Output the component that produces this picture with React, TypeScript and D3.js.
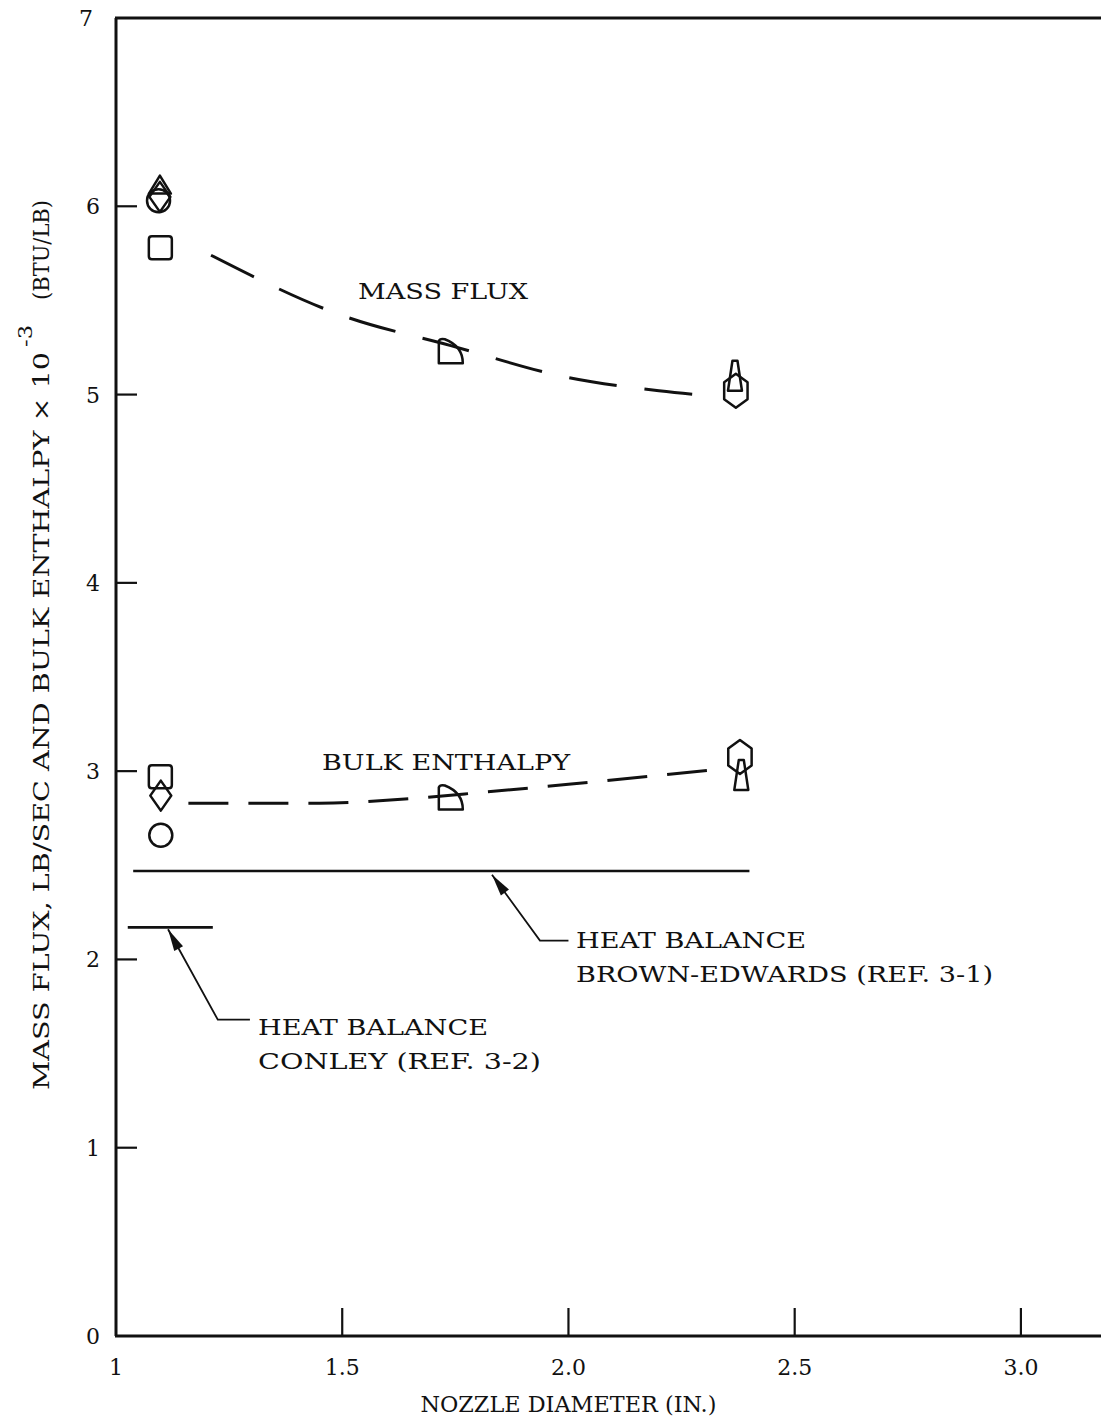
import React from "react";
import * as d3 from "d3";

const W = 1101;
const H = 1424;

// Axis ticks
const yTicks = [0, 1, 2, 3, 4, 5, 6, 7];
const xTickValues = [1, 1.5, 2.0, 2.5, 3.0];
const xTickLabels = ["1", "1.5", "2.0", "2.5", "3.0"];

// Mass flux measured points
const massFluxX = [1.097, 1.094, 1.097, 1.098, 1.74, 2.37, 2.368];
const massFluxY = [6.11, 6.03, 6.05, 5.78, 5.23, 5.02, 5.1];
const massFluxMarker = ["triangle", "circle", "diamond", "square", "quadrant", "hexagon", "spike"];

// Bulk enthalpy measured points
const bulkX = [1.098, 1.099, 1.099, 1.74, 2.379, 2.382];
const bulkY = [2.97, 2.87, 2.66, 2.86, 3.075, 2.98];
const bulkMarker = ["square", "diamond", "circle", "quadrant", "hexagon", "spike"];

// Faired dashed curves
const massFluxCurveX = [1.21, 1.5, 1.74, 2.0, 2.2, 2.33];
const massFluxCurveY = [5.74, 5.42, 5.26, 5.09, 5.02, 4.99];
const bulkCurveX = [1.16, 1.45, 1.656, 1.82, 2.0, 2.33];
const bulkCurveY = [2.83, 2.83, 2.855, 2.89, 2.93, 3.01];

// Heat balance reference lines
const heatBalanceNames = ["BROWN-EDWARDS (REF. 3-1)", "CONLEY (REF. 3-2)"];
const heatBalanceY = [2.47, 2.17];
const heatBalanceX0 = [1.038, 1.026];
const heatBalanceX1 = [2.40, 1.214];

const FONT = "'DejaVu Serif', 'Liberation Serif', serif";

function markerPath(m: string, cx: number, cy: number): string {
  const p = d3.path();
  switch (m) {
    case "circle":
      p.moveTo(cx + 11.5, cy);
      p.arc(cx, cy, 11.5, 0, Math.PI * 2);
      p.closePath();
      break;
    case "square": {
      const s = 11.5, r = 3;
      p.moveTo(cx - s + r, cy - s);
      p.lineTo(cx + s - r, cy - s);
      p.quadraticCurveTo(cx + s, cy - s, cx + s, cy - s + r);
      p.lineTo(cx + s, cy + s - r);
      p.quadraticCurveTo(cx + s, cy + s, cx + s - r, cy + s);
      p.lineTo(cx - s + r, cy + s);
      p.quadraticCurveTo(cx - s, cy + s, cx - s, cy + s - r);
      p.lineTo(cx - s, cy - s + r);
      p.quadraticCurveTo(cx - s, cy - s, cx - s + r, cy - s);
      p.closePath();
      break;
    }
    case "triangle":
      p.moveTo(cx, cy - 10);
      p.lineTo(cx + 11, cy + 8);
      p.lineTo(cx - 11, cy + 8);
      p.closePath();
      break;
    case "diamond":
      p.moveTo(cx, cy - 15);
      p.lineTo(cx + 10.5, cy);
      p.lineTo(cx, cy + 15);
      p.lineTo(cx - 10.5, cy);
      p.closePath();
      break;
    case "quadrant":
      p.moveTo(cx - 12, cy + 12);
      p.lineTo(cx - 12, cy - 10);
      p.quadraticCurveTo(cx - 11, cy - 13, cx - 6, cy - 12);
      p.quadraticCurveTo(cx + 12, cy - 5, cx + 12, cy + 12);
      p.closePath();
      break;
    case "hexagon": {
      const rx = 13.5, ry = 17;
      for (let i = 0; i < 6; i++) {
        const a = -Math.PI / 2 + (i * Math.PI) / 3;
        const px = cx + rx * Math.cos(a);
        const py = cy + ry * Math.sin(a);
        if (i === 0) p.moveTo(px, py);
        else p.lineTo(px, py);
      }
      p.closePath();
      break;
    }
    case "spike":
      p.moveTo(cx - 2.5, cy - 15);
      p.lineTo(cx + 2.5, cy - 15);
      p.lineTo(cx + 7, cy + 15);
      p.lineTo(cx - 7, cy + 15);
      p.closePath();
      break;
  }
  return p.toString();
}

function arrowHead(tipX: number, tipY: number, fromX: number, fromY: number): string {
  const ang = Math.atan2(tipY - fromY, tipX - fromX);
  const len = 22, hw = 5;
  const bx = tipX - len * Math.cos(ang);
  const by = tipY - len * Math.sin(ang);
  const nx = -Math.sin(ang), ny = Math.cos(ang);
  return `M${tipX},${tipY}L${bx + nx * hw},${by + ny * hw}L${bx - nx * hw},${by - ny * hw}Z`;
}

export default function App() {
  const x = d3.scaleLinear().domain([1, 3.177]).range([116, 1101]);
  const y = d3.scaleLinear().domain([0, 7]).range([1336, 18]);

  const line = d3
    .line<[number, number]>()
    .x((d) => x(d[0]))
    .y((d) => y(d[1]))
    .curve(d3.curveMonotoneX);

  const massCurve = line(massFluxCurveX.map((v, i) => [v, massFluxCurveY[i]] as [number, number])) || "";
  const bulkCurve = line(bulkCurveX.map((v, i) => [v, bulkCurveY[i]] as [number, number])) || "";

  // annotation pointers (data coordinates)
  const brownTip = [1.831, 2.45];
  const brownBend = [1.937, 2.10];
  const brownEnd = [2.0, 2.10];
  const conleyTip = [1.115, 2.16];
  const conleyBend = [1.225, 1.68];
  const conleyEnd = [1.296, 1.68];

  const textStyle = { fontFamily: FONT, fontSize: 23, fill: "#111" } as const;

  return (
    <svg
      width={W}
      height={H}
      viewBox={`0 0 ${W} ${H}`}
      style={{ position: "absolute", left: 0, top: 0, background: "#fff" }}
    >
      <rect x={0} y={0} width={W} height={H} fill="#fff" />
      {/* frame */}
      <g stroke="#111" strokeWidth={3} fill="none">
        <line x1={x(1)} y1={y(0)} x2={x(1)} y2={y(7)} />
        <line x1={x(1) - 1} y1={y(7)} x2={W} y2={y(7)} />
        <line x1={x(1) - 1} y1={y(0)} x2={W} y2={y(0)} />
      </g>
      {/* y ticks */}
      <g stroke="#111" strokeWidth={2.2}>
        {yTicks.filter((t) => t > 0 && t < 7).map((t) => (
          <line key={t} x1={x(1)} x2={x(1) + 21} y1={y(t)} y2={y(t)} />
        ))}
      </g>
      {yTicks.map((t) => (
        <text
          key={t}
          x={t === 7 ? 93 : 100}
          y={y(t) + 8}
          textAnchor="end"
          style={{ ...textStyle, fontSize: 22 }}
        >
          {t}
        </text>
      ))}
      {/* x ticks */}
      <g stroke="#111" strokeWidth={2.2}>
        {xTickValues.filter((t) => t > 1).map((t) => (
          <line key={t} x1={x(t)} x2={x(t)} y1={y(0)} y2={y(0) - 28} />
        ))}
      </g>
      {xTickValues.map((t, i) => (
        <text key={t} x={x(t)} y={1375} textAnchor="middle" style={{ ...textStyle, fontSize: 22 }}>
          {xTickLabels[i]}
        </text>
      ))}
      {/* axis titles */}
      <text x={x(2.0)} y={1412} textAnchor="middle" style={textStyle} textLength={296} lengthAdjust="spacingAndGlyphs">
        NOZZLE DIAMETER (IN.)
      </text>
      <g transform="translate(49,0) rotate(-90)">
        <text x={-1090} y={0} style={textStyle} textLength={738} lengthAdjust="spacingAndGlyphs">
          MASS FLUX, LB/SEC AND BULK ENTHALPY × 10
        </text>
        <text x={-347} y={-17} style={{ ...textStyle, fontSize: 19 }} textLength={22} lengthAdjust="spacingAndGlyphs">
          -3
        </text>
        <text x={-300} y={0} style={textStyle} textLength={100} lengthAdjust="spacingAndGlyphs">
          (BTU/LB)
        </text>
      </g>

      {/* heat balance lines */}
      <g stroke="#111" strokeWidth={2.6}>
        {heatBalanceNames.map((n, i) => (
          <line key={n} x1={x(heatBalanceX0[i])} x2={x(heatBalanceX1[i])} y1={y(heatBalanceY[i])} y2={y(heatBalanceY[i])} />
        ))}
      </g>
      {/* pointers */}
      <g stroke="#111" strokeWidth={1.8} fill="none">
        <polyline points={[brownTip, brownBend, brownEnd].map((d) => `${x(d[0])},${y(d[1])}`).join(" ")} />
        <polyline points={[conleyTip, conleyBend, conleyEnd].map((d) => `${x(d[0])},${y(d[1])}`).join(" ")} />
      </g>
      <path d={arrowHead(x(brownTip[0]), y(brownTip[1]), x(brownBend[0]), y(brownBend[1]))} fill="#111" />
      <path d={arrowHead(x(conleyTip[0]), y(conleyTip[1]), x(conleyBend[0]), y(conleyBend[1]))} fill="#111" />

      {/* dashed curves */}
      <path d={massCurve} fill="none" stroke="#111" strokeWidth={3} strokeDasharray="48 28" />
      <path d={bulkCurve} fill="none" stroke="#111" strokeWidth={3} strokeDasharray="40 20" />

      {/* markers */}
      <g fill="none" stroke="#111" strokeWidth={2.5} strokeLinejoin="round">
        {massFluxX.map((v, i) => (
          <path key={"m" + i} d={markerPath(massFluxMarker[i], x(v), y(massFluxY[i]))} />
        ))}
        {bulkX.map((v, i) => (
          <path key={"b" + i} d={markerPath(bulkMarker[i], x(v), y(bulkY[i]))} />
        ))}
      </g>

      {/* labels */}
      <text x={358} y={299} style={textStyle} textLength={170} lengthAdjust="spacingAndGlyphs">MASS FLUX</text>
      <text x={322} y={770} style={textStyle} textLength={248} lengthAdjust="spacingAndGlyphs">BULK ENTHALPY</text>
      <text x={576} y={948} style={textStyle} textLength={230} lengthAdjust="spacingAndGlyphs">HEAT BALANCE</text>
      <text x={576} y={982} style={textStyle} textLength={417} lengthAdjust="spacingAndGlyphs">{heatBalanceNames[0]}</text>
      <text x={258} y={1035} style={textStyle} textLength={230} lengthAdjust="spacingAndGlyphs">HEAT BALANCE</text>
      <text x={258} y={1069} style={textStyle} textLength={283} lengthAdjust="spacingAndGlyphs">{heatBalanceNames[1]}</text>
    </svg>
  );
}
